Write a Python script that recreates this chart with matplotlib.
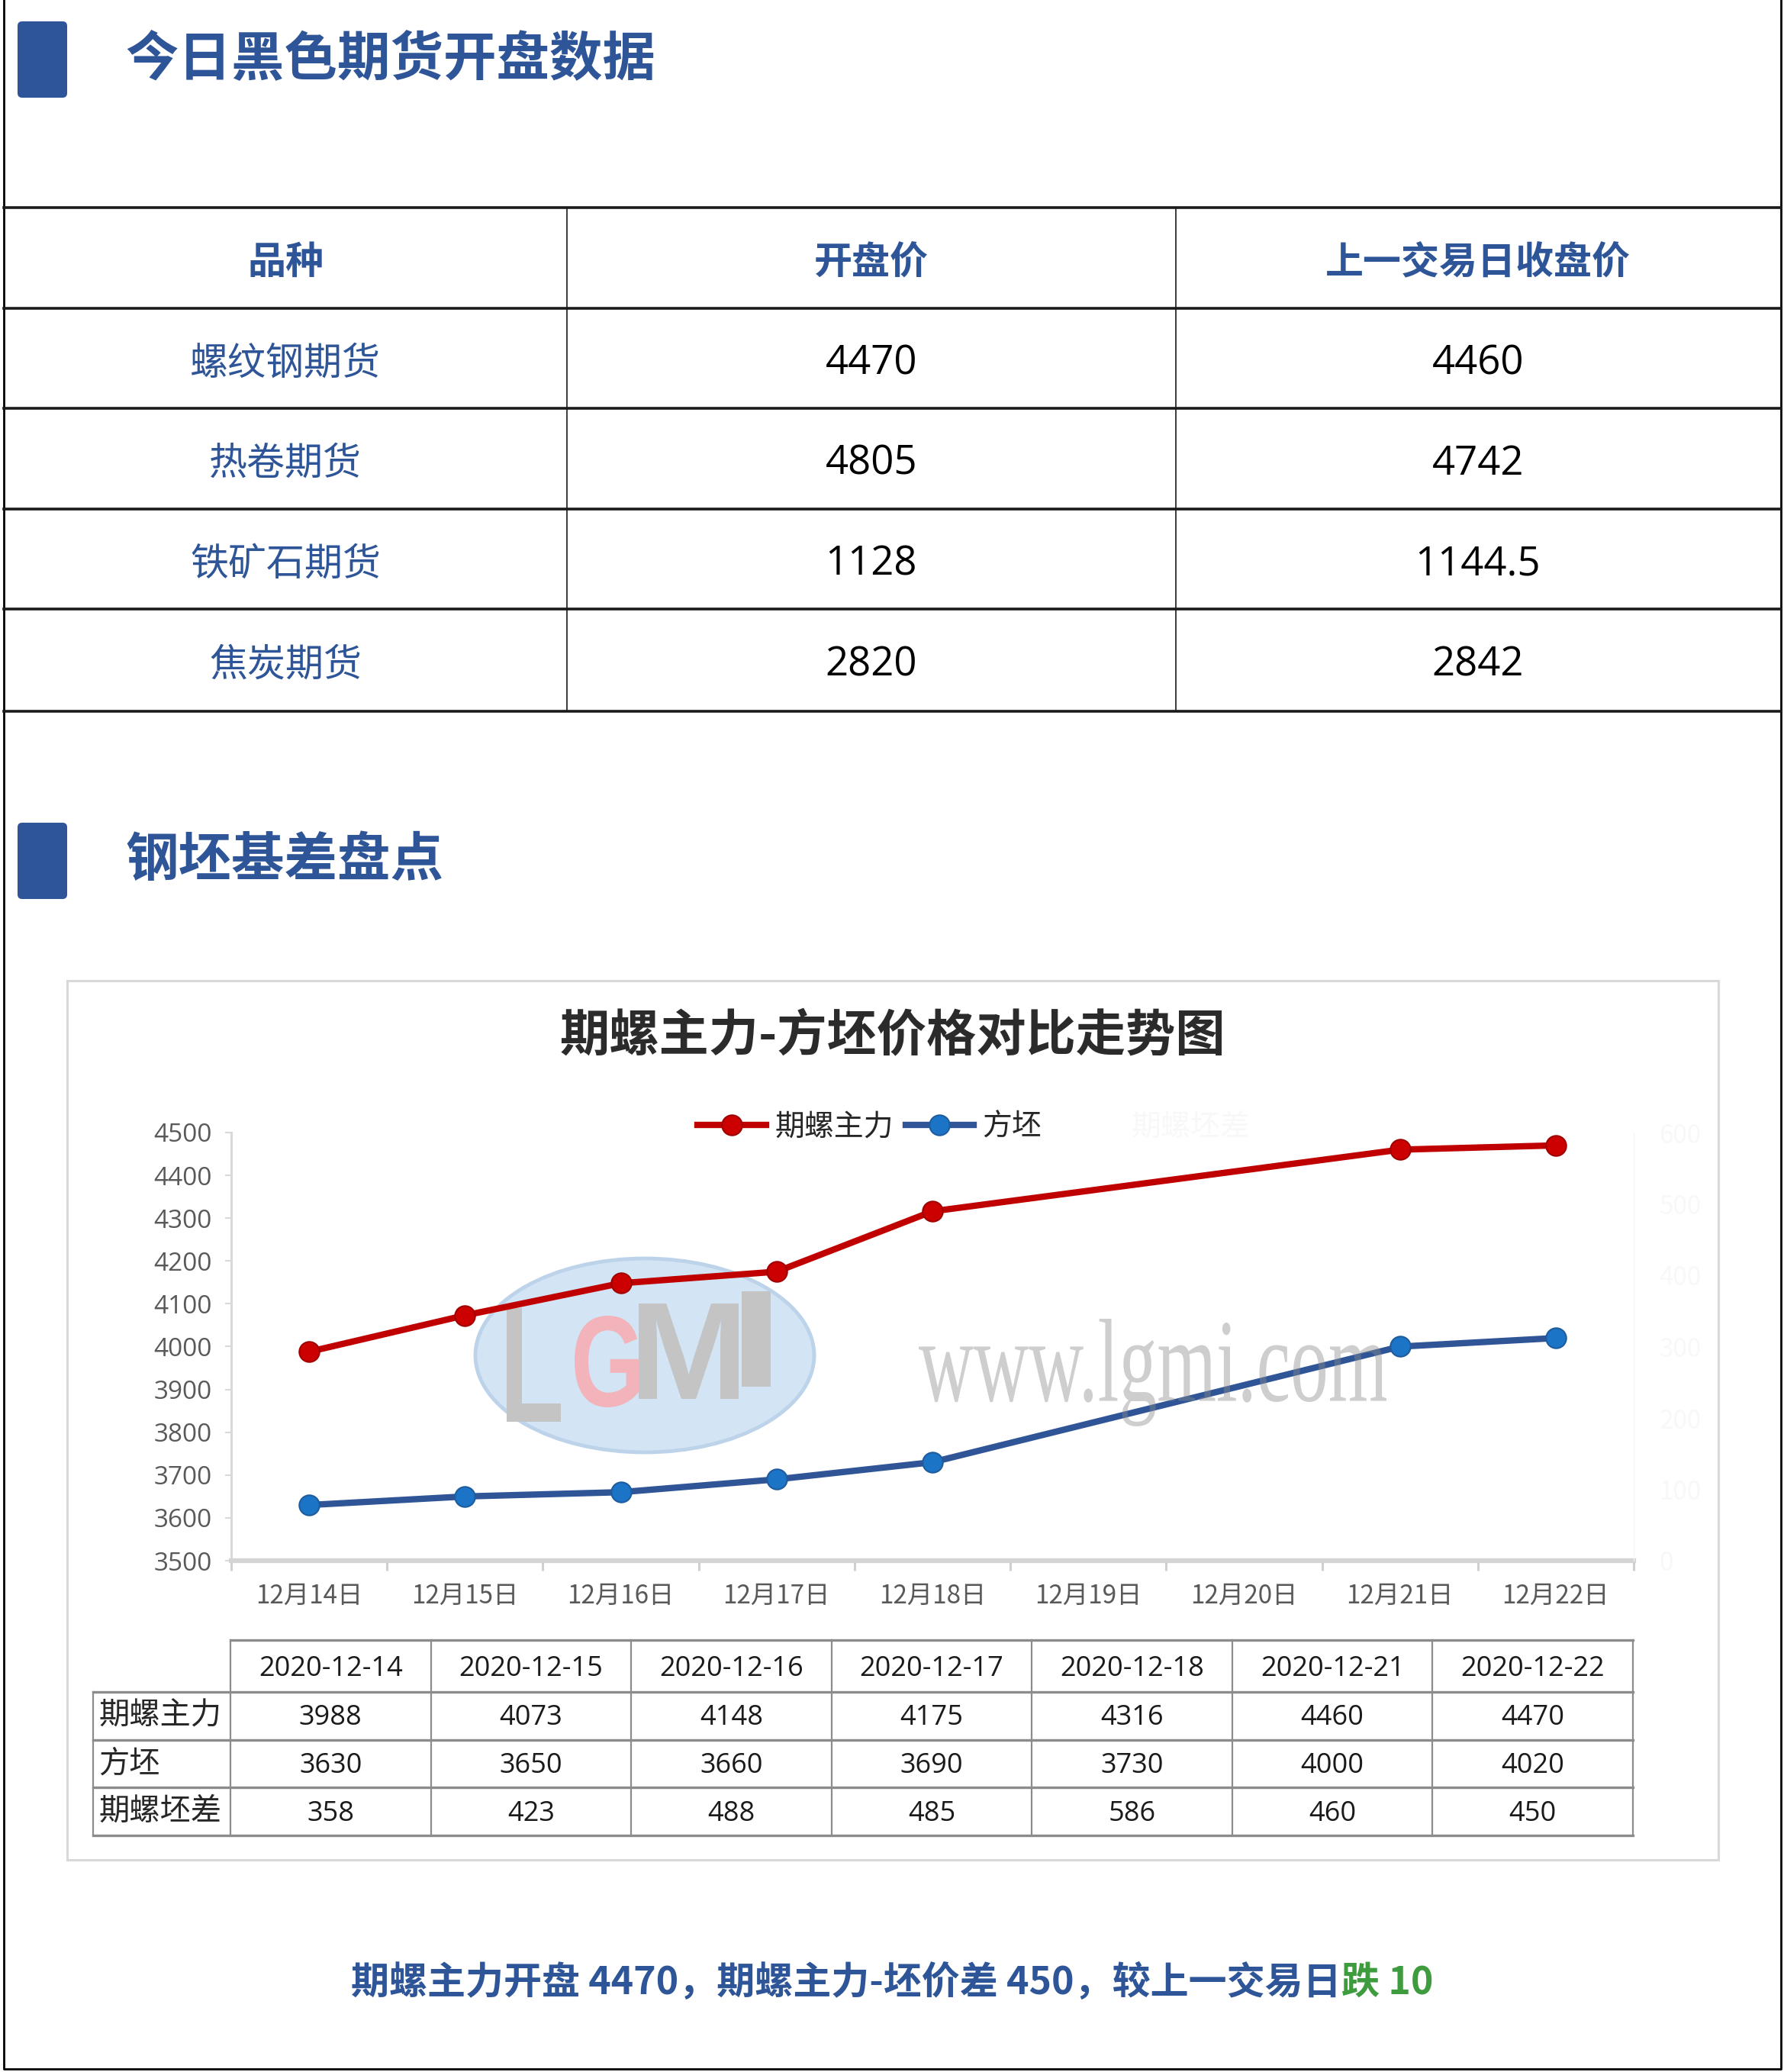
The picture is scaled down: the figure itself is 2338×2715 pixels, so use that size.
import matplotlib.pyplot as plt
from matplotlib.patches import FancyBboxPatch, Rectangle, Ellipse, PathPatch
from matplotlib.textpath import TextPath
from matplotlib.font_manager import FontProperties
from matplotlib.transforms import Affine2D

plt.rcParams['font.family'] = ['Noto Sans CJK SC', 'DejaVu Sans']

# top table: today's opening data
varieties = ['螺纹钢期货', '热卷期货', '铁矿石期货', '焦炭期货']
open_price = [4470, 4805, 1128, 2820]
prev_close = [4460, 4742, 1144.5, 2842]
table_head = ['品种', '开盘价', '上一交易日收盘价']

# chart data
axis_days = ['12月14日', '12月15日', '12月16日', '12月17日', '12月18日',
             '12月19日', '12月20日', '12月21日', '12月22日']
trade_dates = ['2020-12-14', '2020-12-15', '2020-12-16', '2020-12-17',
               '2020-12-18', '2020-12-21', '2020-12-22']
rebar_main = [3988, 4073, 4148, 4175, 4316, 4460, 4470]
billet = [3630, 3650, 3660, 3690, 3730, 4000, 4020]
basis = [358, 423, 488, 485, 586, 460, 450]
series_names = ['期螺主力', '方坯', '期螺坯差']

BLUE = '#2E5597'
GREEN = '#3E9B3E'
FAINT = '#f8f8f8'
W, H = 2338, 2715

fig = plt.figure(figsize=(W / 100, H / 100), dpi=100)
bg = fig.add_axes([0, 0, 1, 1])
bg.set_xlim(0, W)
bg.set_ylim(H, 0)
bg.axis('off')

# page frame
bg.plot([5, 5, 2334, 2334], [0, 2711, 2711, 0], color='black', lw=2)

# section markers + titles
for y0, title in [(28, '今日黑色期货开盘数据'), (1078, '钢坯基差盘点')]:
    bg.add_patch(FancyBboxPatch((23, y0), 65, 100, boxstyle='round,pad=0,rounding_size=6',
                                fc=BLUE, ec='none'))
    bg.text(164, y0 + 50, title, fontsize=50, fontweight='bold', color=BLUE,
            ha='left', va='center')

# top table
row_lines = [272, 404, 535, 667, 798, 932]
col_lines = [743, 1541]
col_centers = [374, 1142, 1937]
for y in row_lines:
    bg.plot([5, 2334], [y, y], color='#1a1a1a', lw=2.6)
for x in col_lines:
    bg.plot([x, x], [row_lines[0], row_lines[-1]], color='#1a1a1a', lw=1.2)
for cx, h in zip(col_centers, table_head):
    bg.text(cx, 344, h, fontsize=36, fontweight='bold', color=BLUE, ha='center', va='center')
for i, name in enumerate(varieties):
    yc = (row_lines[i + 1] + row_lines[i + 2]) / 2 + 7
    bg.text(col_centers[0], yc, name, fontsize=36, color=BLUE, ha='center', va='center')
    bg.text(col_centers[1], yc, f'{open_price[i]:g}', fontsize=38, family='Open Sans',
            color='black', ha='center', va='center')
    bg.text(col_centers[2], yc, f'{prev_close[i]:g}', fontsize=38, family='Open Sans',
            color='black', ha='center', va='center')

# chart box
bg.add_patch(Rectangle((88, 1285), 2164, 1152, fill=False, ec='#d9d9d9', lw=2.2))
bg.text(1170, 1358, '期螺主力-方坯价格对比走势图', fontsize=47, fontweight='bold',
        color='#2b2b2b', ha='center', va='center')


def text_in_box(target, s, x0, x1, ytop, ybot, color, family, weight='normal',
                alpha=1.0, fig_level=False):
    fp = FontProperties(family=family, weight=weight)
    tp = TextPath((0, 0), s, size=100, prop=fp)
    bb = tp.get_extents()
    sx = (x1 - x0) / bb.width
    sy = (ybot - ytop) / bb.height
    tr = Affine2D().translate(-bb.x0, -bb.y0).scale(sx, -sy).translate(x0, ybot) + bg.transData
    patch = PathPatch(tp, transform=tr, fc=color, ec='none', alpha=alpha)
    if fig_level:
        patch.set_zorder(5)
        fig.add_artist(patch)
    else:
        target.add_patch(patch)


# LGMI watermark logo (below the lines)
bg.add_patch(Ellipse((845, 1776), 444, 254, fc='#d3e4f4', ec='#bcd3ea', lw=3.5))
text_in_box(bg, 'L', 664, 735, 1714, 1863, '#c4c4c4', 'Liberation Sans', 'bold')
text_in_box(bg, 'G', 753, 837, 1724, 1844, '#f2b4ba', 'Liberation Sans', 'bold')
text_in_box(bg, 'M', 837, 968, 1708, 1833, '#c4c4c4', 'Liberation Sans', 'bold')
text_in_box(bg, 'I', 972, 1010, 1692, 1817, '#c4c4c4', 'Liberation Sans', 'bold')

# line chart
ax = fig.add_axes([303 / W, 1 - 2045 / H, (2141 - 303) / W, (2045 - 1484) / H])
ax.patch.set_alpha(0)
day_nums = [int(s[3:5]) for s in axis_days]
x_pos = [int(d[-2:]) for d in trade_dates]

l1, = ax.plot(x_pos, rebar_main, color='#C00000', lw=6, marker='o', ms=19,
              mfc='#CC0000', mec='#A00000', mew=1.5, zorder=3)
l2, = ax.plot(x_pos, billet, color='#2F5597', lw=6, marker='o', ms=19,
              mfc='#1B74C5', mec='#1F5C9E', mew=1.5, zorder=3)

ax.set_xlim(day_nums[0] - 0.5, day_nums[-1] + 0.5)
ax.set_ylim(3500, 4500)
ax.set_yticks(range(3500, 4501, 100))
ax.set_xticks([d - 0.5 for d in day_nums] + [day_nums[-1] + 0.5])
ax.set_xticks(day_nums, minor=True)
ax.set_xticklabels(axis_days, minor=True)
ax.tick_params(axis='x', which='major', length=9, width=2.2, color='#d0d0d0', labelbottom=False)
ax.tick_params(axis='x', which='minor', length=0, pad=21, labelsize=24, labelcolor='#595959')
ax.tick_params(axis='y', length=6, width=1.5, color='#d9d9d9', pad=12, labelsize=24,
               labelcolor='#595959')
for lbl in ax.get_yticklabels():
    lbl.set_fontfamily('Open Sans')
for lbl in ax.get_xticklabels(minor=True):
    lbl.set_fontweight('light')
for side in ['top', 'right']:
    ax.spines[side].set_visible(False)
ax.spines['left'].set_color('#d9d9d9')
ax.spines['left'].set_linewidth(2.2)
ax.spines['bottom'].set_color('#d4d4d4')
ax.spines['bottom'].set_linewidth(4.5)

# secondary axis (almost invisible in the original)
ax2 = ax.twinx()
l3, = ax2.plot(x_pos, basis, color='#c0c0c0', lw=6, alpha=0)
ax2.set_ylim(0, 600)
ax2.set_yticks(range(0, 601, 100))
ax2.tick_params(axis='y', length=0, pad=24, labelsize=24, labelcolor=FAINT)
for side in ['top', 'left', 'bottom']:
    ax2.spines[side].set_visible(False)
ax2.spines['right'].set_color('#f5f5f5')

leg = ax.legend([l1, l2, l3], series_names, loc='center left',
                bbox_to_anchor=(895 / W, 1 - 1477 / H), bbox_transform=fig.transFigure,
                ncol=3, frameon=False, handlelength=2.3, handletextpad=0.3,
                columnspacing=0.4, borderpad=0, fontsize=28)
for t in leg.get_texts():
    t.set_color('#262626')
leg.get_texts()[2].set_color(FAINT)

# www.lgmi.com watermark (over the lines, semi transparent)
text_in_box(None, 'www.lgmi.com', 1204, 1817, 1728, 1869, '#8c8c8c', 'Liberation Serif',
            alpha=0.42, fig_level=True)

# data table under the chart
tb_left, tb_lab, tb_right = 122, 302, 2140
tb_rows = [2149, 2217, 2280, 2342, 2405]
col_w = (tb_right - tb_lab) / len(trade_dates)
grid = '#8c8c8c'
bg.plot([tb_lab, tb_right], [tb_rows[0]] * 2, color=grid, lw=2.4)
for y in tb_rows[1:]:
    bg.plot([tb_left, tb_right], [y, y], color=grid, lw=2.4)
bg.plot([tb_left, tb_left], [tb_rows[1], tb_rows[-1]], color=grid, lw=1.6)
for k in range(len(trade_dates) + 1):
    x = tb_lab + k * col_w
    bg.plot([x, x], [tb_rows[0], tb_rows[-1]], color=grid, lw=1.6)

for k, d in enumerate(trade_dates):
    cx = tb_lab + (k + 0.5) * col_w
    bg.text(cx, (tb_rows[0] + tb_rows[1]) / 2 + 4, d, fontsize=26, family='Open Sans',
            color='#1a1a1a', ha='center', va='center')
    for r, vals in enumerate([rebar_main, billet, basis]):
        bg.text(cx, (tb_rows[r + 1] + tb_rows[r + 2]) / 2 + 3, str(vals[k]), fontsize=26,
                family='Open Sans', color='#1a1a1a', ha='center', va='center')
for r, name in enumerate(series_names):
    bg.text(tb_left + 7, (tb_rows[r + 1] + tb_rows[r + 2]) / 2, name, fontsize=29,
            fontweight='light', color='#262626', ha='left', va='center')

# summary line
change = basis[-1] - basis[-2]
word = '跌' if change < 0 else '涨'
s1 = f'期螺主力开盘 {rebar_main[-1]}，期螺主力-坯价差 {basis[-1]}，较上一交易日'
s2 = f'{word} {abs(change)}'
t1 = bg.text(0, 2598, s1, fontsize=36, fontweight='bold', color=BLUE, ha='left', va='center')
t2 = bg.text(0, 2598, s2, fontsize=36, fontweight='bold', color=GREEN, ha='left', va='center')
r = fig.canvas.get_renderer()
w1 = t1.get_window_extent(r).width
w2 = t2.get_window_extent(r).width
x0 = 1169 - (w1 + w2) / 2
t1.set_x(x0)
t2.set_x(x0 + w1)

fig.savefig('out.png', dpi=100, facecolor='white')
